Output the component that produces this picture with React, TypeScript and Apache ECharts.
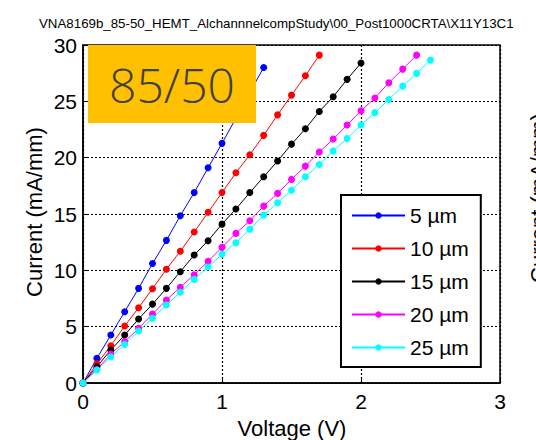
import React, { useEffect, useRef } from "react";
import * as echarts from "echarts";

// Bias sweep points (V)
const voltage = [
  0, 0.1, 0.2, 0.3, 0.4, 0.5, 0.6, 0.7, 0.8, 0.9, 1.0, 1.1, 1.2,
  1.3, 1.4, 1.5, 1.6, 1.7, 1.8, 1.9, 2.0, 2.1, 2.2, 2.3, 2.4, 2.5,
];

// Current density (mA/mm) per spacing
const i5um = [0, 2.19, 4.26, 6.33, 8.4, 10.6, 12.66, 14.85, 16.9, 19.1, 21.27, 23.5, 25.8, 28.0];
const i10um = [0, 1.7, 3.31, 5.06, 6.68, 8.37, 10.1, 11.7, 13.4, 15.15, 16.9, 18.66, 20.26, 21.98, 23.8, 25.55, 27.27, 29.1];
const i15um = [0, 1.45, 2.93, 4.26, 5.68, 7.0, 8.4, 9.88, 11.36, 12.63, 14.1, 15.44, 16.9, 18.3, 19.7, 21.2, 22.56, 24.1, 25.4, 26.95, 28.4];
const i20um = [0, 1.2, 2.57, 3.67, 4.85, 6.12, 7.36, 8.5, 9.6, 10.8, 12.04, 13.28, 14.4, 15.7, 16.83, 18.07, 19.25, 20.5, 21.65, 22.9, 24.16, 25.3, 26.65, 27.86, 29.1];
const i25um = [0, 1.15, 2.33, 3.43, 4.61, 5.74, 6.92, 8.05, 9.2, 10.3, 11.42, 12.45, 13.66, 14.9, 16.0, 17.1, 18.3, 19.4, 20.6, 21.7, 22.9, 24.0, 25.17, 26.35, 27.48, 28.66];

const seriesNames = ["5 \u00b5m", "10 \u00b5m", "15 \u00b5m", "20 \u00b5m", "25 \u00b5m"];
const seriesColors = ["#0000ff", "#ff0000", "#000000", "#ff00ff", "#00ffff"];
const seriesValues = [i5um, i10um, i15um, i20um, i25um];

const xTicks = [0, 1, 2, 3];
const yTicks = [0, 5, 10, 15, 20, 25, 30];

const titleText = "VNA8169b_85-50_HEMT_AlchannnelcompStudy\\00_Post1000CRTA\\X11Y13C1";
const badgeText = "85/50";

const FONT = "Arial, 'Liberation Sans', sans-serif";

export default function App() {
  const ref = useRef<HTMLDivElement>(null);

  useEffect(() => {
    if (!ref.current) return;
    const chart = echarts.init(ref.current, null, { renderer: "svg" });

    const series = seriesValues.map((vals, k) => ({
      name: seriesNames[k],
      type: "line",
      data: vals.map((v, i) => [voltage[i], v]),
      symbol: "circle",
      symbolSize: 7,
      showSymbol: true,
      color: seriesColors[k],
      lineStyle: { width: 1, color: seriesColors[k] },
      itemStyle: { color: seriesColors[k] },
      z: 3,
    }));

    const gridLine = { show: true, lineStyle: { color: "#000", type: [2, 2], width: 1.2 } };

    chart.setOption({
      animation: false,
      backgroundColor: "#fff",
      grid: {
        left: 83,
        right: 36,
        top: 45,
        bottom: 57,
        show: true,
        borderColor: "#000",
        borderWidth: 1.5,
        containLabel: false,
      },
      xAxis: [
        {
          type: "value",
          min: xTicks[0],
          max: xTicks[xTicks.length - 1],
          interval: 1,
          axisLine: { show: true, lineStyle: { color: "#000", width: 1.5 } },
          axisTick: { show: true, inside: true, length: 4, lineStyle: { color: "#000" } },
          axisLabel: { color: "#000", fontSize: 21, fontFamily: FONT, margin: 8 },
          splitLine: gridLine,
        },
      ],
      yAxis: [
        {
          type: "value",
          min: yTicks[0],
          max: yTicks[yTicks.length - 1],
          interval: 5,
          axisLine: { show: true, lineStyle: { color: "#000", width: 1.5 } },
          axisTick: { show: true, inside: true, length: 4, lineStyle: { color: "#000" } },
          axisLabel: { color: "#000", fontSize: 21, fontFamily: FONT, margin: 6 },
          splitLine: gridLine,
        },
      ],
      legend: {
        data: seriesNames,
        orient: "vertical",
        left: 341,
        top: 195,
        itemWidth: 53,
        itemHeight: 8,
        itemGap: 12,
        padding: [10, 12, 9, 10],
        backgroundColor: "#fff",
        borderColor: "#000",
        borderWidth: 2,
        borderRadius: 0,
        textStyle: { color: "#000", fontSize: 21, fontFamily: FONT },
        z: 10,
      },
      graphic: [
        {
          type: "text",
          left: 39,
          top: 17,
          style: { text: titleText, fontSize: 13.3, fontFamily: FONT, fill: "#000" },
        },
        {
          type: "rect",
          shape: { x: 88, y: 45, width: 168, height: 78 },
          style: { fill: "#FFC000" },
          z: 100,
        },
        {
          type: "text",
          x: 172,
          y: 84,
          style: {
            text: badgeText,
            fontSize: 48,
            fontFamily: "'Open Sans', Lato, sans-serif",
            fontWeight: 300,
            fill: "#404040",
            align: "center",
            verticalAlign: "middle",
          },
          z: 101,
        },
        {
          type: "text",
          x: 292,
          y: 428,
          style: {
            text: "Voltage (V)",
            fontSize: 22,
            fontFamily: FONT,
            fill: "#000",
            align: "center",
            verticalAlign: "middle",
          },
        },
        {
          type: "text",
          x: 34,
          y: 212,
          rotation: Math.PI / 2,
          style: {
            text: "Current (mA/mm)",
            fontSize: 22,
            fontFamily: FONT,
            fill: "#000",
            align: "center",
            verticalAlign: "middle",
          },
        },
        {
          type: "text",
          x: 538,
          y: 198,
          rotation: Math.PI / 2,
          style: {
            text: "Current (mA/mm)",
            fontSize: 22,
            fontFamily: FONT,
            fill: "#000",
            align: "center",
            verticalAlign: "middle",
          },
        },
      ],
      series,
    });

    return () => chart.dispose();
  }, []);

  return <div ref={ref} style={{ width: 536, height: 440, position: "absolute", left: 0, top: 0 }} />;
}
